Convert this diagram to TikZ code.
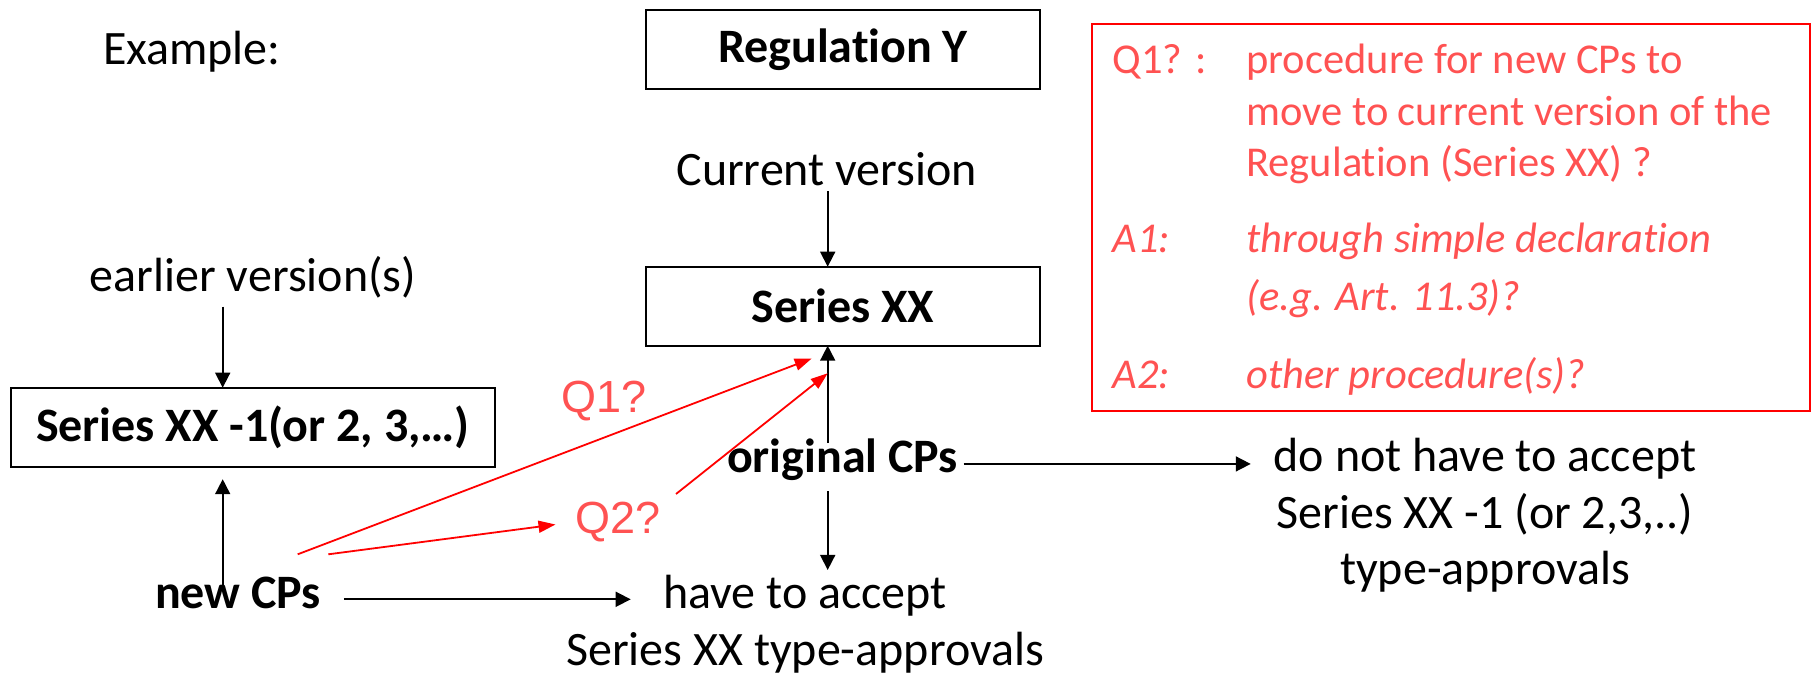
\documentclass[tikz,border=0pt]{standalone}
\usepackage{fontspec}
\setmainfont{Carlito}[Ligatures=NoCommon]
\newfontfamily\arialfont{Liberation Sans}
\usetikzlibrary{arrows.meta}
\definecolor{linered}{RGB}{255,0,0}
\definecolor{textred}{RGB}{255,82,82}
% stacked lines whose baseline is the first line
\newcommand\centerstack[1]{\vtop{\halign{\hfil##\hfil\cr#1\crcr}}}
\newcommand\leftstack[1]{\vtop{\halign{##\hfil\cr#1\crcr}}}

\begin{document}
\begin{tikzpicture}[x=1pt,y=-1pt,
  every node/.style={inner sep=0pt,outer sep=0pt},
  txt/.style={font=\fontsize{48}{56.7}\selectfont},
  btxt/.style={font=\fontsize{48}{56.7}\selectfont\bfseries},
  verbox/.style={draw,line width=2pt,minimum width=394pt,minimum height=79pt,
    font=\fontsize{48}{56.7}\selectfont\bfseries},
  qlabel/.style={text=textred,font=\fontsize{45}{50}\arialfont},
  note/.style={text=textred,font=\fontsize{42.5}{51.7}\selectfont},
  inote/.style={text=textred,font=\fontsize{42.5}{58.3}\selectfont\itshape},
  link/.style={-{Triangle[length=15pt,width=15pt]},line width=1.7pt},
  redlink/.style={-{Triangle[length=17pt,width=12pt]},line width=1.8pt,draw=linered}]

\useasboundingbox (0,0) rectangle (1811,677);

% left column
\node[txt,anchor=base west] (example) at (103,64.3) {Example:};
\node[txt,anchor=base] (earlier) at (253,291) {earlier version(s)};
\node[verbox,minimum width=484pt] (sxm) at (253,427.2) {Series XX -1(or 2, 3,…)};
\node[btxt,anchor=base] (newcp) at (238,608.3) {new CPs};

% centre column
\node[verbox] (reg) at (842.9,49.5) {Regulation Y};
\node[txt,anchor=base] (cur) at (826.7,185.7) {Current version};
\node[verbox] (sx) at (842.9,306.2) {Series XX};
\node[btxt,anchor=base] (orig) at (842.5,472.7) {original CPs};
\node[txt,anchor=base] (have) at (805,608.3)
  {\centerstack{have to accept\cr Series XX type-approvals}};

% right column
\node[txt,anchor=base] (nothave) at (1485,471.5)
  {\centerstack{do not have to accept\cr Series XX -1 (or 2,3,..)\cr type-approvals}};

% question labels
\node[qlabel,anchor=base west] (q1) at (561,412.7) {Q1?};
\node[qlabel,anchor=base west] (q2) at (575,533.3) {Q2?};

% note box
\node[draw=linered,line width=2.2pt,minimum width=717.9pt,minimum height=387pt]
  (notebox) at (1450.65,217.7) {};
\node[note,anchor=base west] (q1tag) at (1112.6,73.5) {Q1? :};
\node[note,anchor=base west] (q1txt) at (1246.4,73.5)
  {\leftstack{procedure for new CPs to\cr move to current version of the\cr Regulation (Series XX) ?}};
\node[inote,anchor=base west] (a1tag) at (1112.6,252) {A1:};
\node[inote,anchor=base west] (a1txt) at (1246.4,252)
  {\leftstack{through simple declaration\cr (e.g. Art. 11.3)?}};
\node[inote,anchor=base west] (a2tag) at (1112.6,388.5) {A2:};
\node[inote,anchor=base west] (a2txt) at (1246.4,388.5) {other procedure(s)?};

% arrow lanes and free ends
\coordinate (laneL) at (222.7,0);
\coordinate (laneC) at (827.7,0);
\coordinate (haveIn) at (630.7,599.3);
\coordinate (r1s) at (297.7,554.3);
\coordinate (r1e) at (811.7,358.5);
\coordinate (r2s) at (328.3,554.3);
\coordinate (r2e) at (555.5,524.5);
\coordinate (r3s) at (676,494);
\coordinate (r3e) at (827.7,373.3);

% black connectors
\draw[link,shorten <=5pt] (laneC |- cur.south) -- (laneC |- sx.north);
\draw[link,shorten <=9pt] (laneL |- earlier.south) -- (laneL |- sxm.north);
\draw[link,shorten <=-8pt,shorten >=12.5pt] (laneL |- newcp.north) -- (laneL |- sxm.south);
\draw[link,shorten <=-4pt] (laneC |- orig.north) -- (laneC |- sx.south);
\draw[link,shorten <=10.5pt,shorten >=5pt] (laneC |- orig.south) -- (laneC |- have.north);
\draw[link,shorten <=5.7pt,shorten >=23pt] ([yshift=-4pt]orig.east) -- ([yshift=-4pt]orig.east -| nothave.west);
\draw[link,shorten <=23pt] (newcp.east |- haveIn) -- (haveIn);

% red connectors
\draw[redlink] (r1s) -- (r1e);
\draw[redlink] (r2s) -- (r2e);
\draw[redlink] (r3s) -- (r3e);
\end{tikzpicture}
\end{document}
